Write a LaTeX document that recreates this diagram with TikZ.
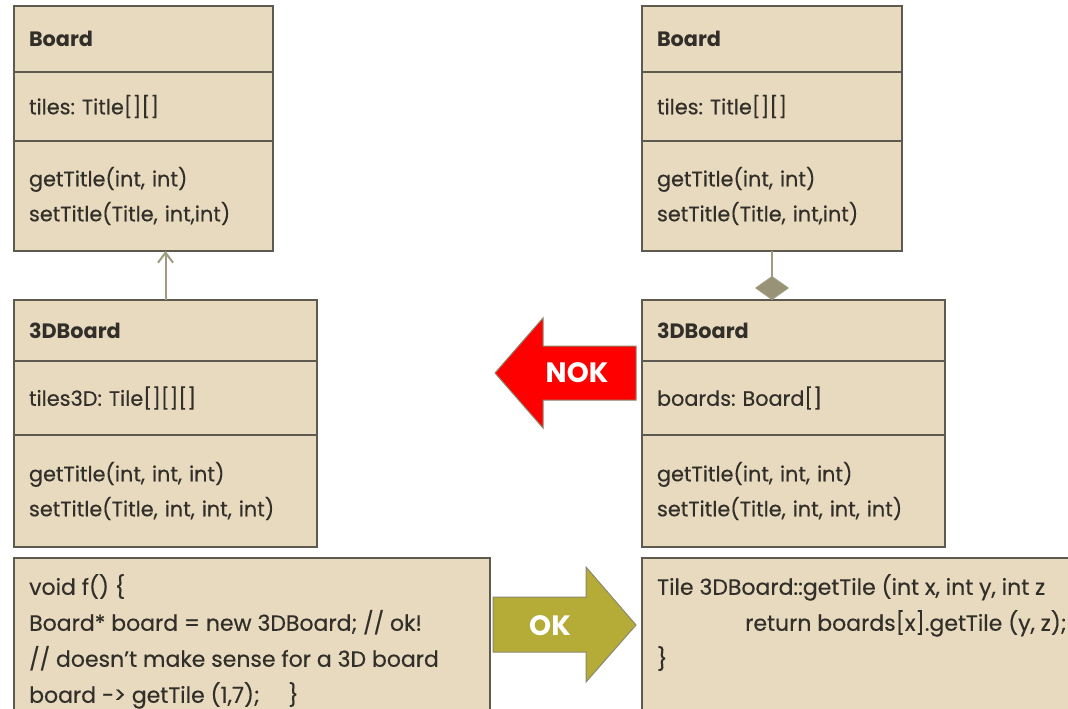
\documentclass[tikz,border=0pt]{standalone}
\usepackage{fontspec}
\setmainfont{Poppins}[UprightFeatures={FakeBold=0.4}]
\frenchspacing
\usetikzlibrary{arrows.meta}
\definecolor{boxfill}{RGB}{232,218,190}
\definecolor{boxline}{RGB}{95,90,80}
\definecolor{linkline}{RGB}{160,155,125}
\definecolor{txt}{RGB}{50,47,42}
\definecolor{okfill}{RGB}{180,172,55}
\definecolor{arrline}{RGB}{140,135,110}
\begin{document}
\begin{tikzpicture}[x=1pt, y=-1pt,
  part/.style={draw=boxline, fill=boxfill, line width=1.5pt, anchor=north west,
    outer sep=0pt, inner xsep=15pt, inner ysep=0pt, align=left, text=txt,
    font=\fontsize{20.8}{35}\selectfont},
  head/.style={part, font=\fontsize{20.8}{35}\selectfont\bfseries},
  codetext/.style={anchor=north west, inner sep=0pt, align=left, text=txt,
    font=\fontsize{22}{36}\selectfont},
  link/.style={draw=linkline, line width=2pt},
  bigtxt/.style={text=white, font=\fontsize{28}{30}\selectfont\bfseries}]
\useasboundingbox (0,0) rectangle (1068,709);
\clip (0,0) rectangle (1068,709);

% Board (left)
\node[head, minimum height=66, text width=229] (lboardname) at (14,6) {Board};
\node[part, minimum height=69, text width=229] (lboardattr) at (lboardname.south west) {tiles: Title[][]};
\node[part, minimum height=110, text width=229] (lboardops) at (lboardattr.south west) {getTitle(int, int)\\setTitle(Title, int,int)};

% 3DBoard (left)
\node[head, minimum height=61, text width=273] (l3dname) at (14,300) {3DBoard};
\node[part, minimum height=74, text width=273] (l3dattr) at (l3dname.south west) {tiles3D: Tile[][][]};
\node[part, minimum height=112, text width=273] (l3dops) at (l3dattr.south west) {getTitle(int, int, int)\\setTitle(Title, int, int, int)};

% Board (right)
\node[head, minimum height=66, text width=230] (rboardname) at (642,6) {Board};
\node[part, minimum height=69, text width=230] (rboardattr) at (rboardname.south west) {tiles: Title[][]};
\node[part, minimum height=110, text width=230] (rboardops) at (rboardattr.south west) {getTitle(int, int)\\setTitle(Title, int,int)};

% 3DBoard (right)
\node[head, minimum height=61, text width=273] (r3dname) at (642,300) {3DBoard};
\node[part, minimum height=74, text width=273] (r3dattr) at (r3dname.south west) {boards: Board[]};
\node[part, minimum height=112, text width=273] (r3dops) at (r3dattr.south west) {getTitle(int, int, int)\\setTitle(Title, int, int, int)};

% Inheritance and composition
\draw[link, -{Straight Barb[length=10pt, width=15pt]}] (l3dname.north) -- (l3dname.north |- lboardops.south);
\draw[link, line width=1.5pt, {Diamond[length=24pt, width=34pt, fill=linkline!95!black, line width=1pt]}-] (r3dname.north -| rboardops.south) -- (rboardops.south);

% Code boxes
\node[part, minimum height=170, text width=446] (lcode) at (14,558) {};
\node[codetext] (lcodetxt) at ([xshift=15pt, yshift=-16pt]lcode.north west) {void f() \{\\Board* board = new 3DBoard; // ok!\\// doesn’t make sense for a 3D board\\board -> getTile (1,7);\hspace{1.3em}\}};
\node[part, minimum height=170, text width=420] (rcode) at (642,558) {};
\node[codetext] (rcodetxt) at ([xshift=15pt, yshift=-16pt]rcode.north west) {Tile 3DBoard::getTile (int x, int y, int z\\\hspace*{88pt}return boards[x].getTile (y, z);\\\}};

% NOK and OK arrows
\draw[arrline, fill=red, line width=1pt] (636,346) -- (543,346) -- (543,318) -- (495,373) -- (543,428) -- (543,400) -- (636,400) -- cycle;
\node[bigtxt] (nok) at (577,373) {NOK};
\draw[arrline, fill=okfill, line width=1pt] (493,597) -- (586,597) -- (586,567) -- (636,625) -- (586,682) -- (586,652) -- (493,652) -- cycle;
\node[bigtxt] (ok) at (550,626) {OK};
\end{tikzpicture}
\end{document}
